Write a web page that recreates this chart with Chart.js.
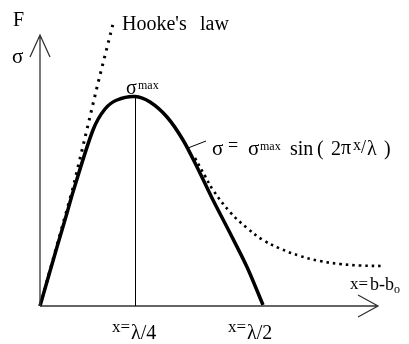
<!DOCTYPE html>
<html lang="en">
<head>
    <meta charset="UTF-8">
    <title>Hooke's law vs sine approximation</title>
    <script src="https://cdn.jsdelivr.net/npm/chart.js"></script>
    <style>
        html, body {
            margin: 0;
            padding: 0;
            background: #fff;
        }

        canvas {
            display: block;
        }
    </style>
</head>
<body>

    <canvas id="grafico" width="409" height="344"></canvas>

    <script>
        // separation x (arbitrary units) and stress for each curve
        const sineX   = [0, 1.7, 2.7, 3.3, 5.3, 6.5, 7.7, 9.5, 11.0, 12.7, 14.3, 15.7, 17.3, 19.0, 20.7, 22.3];
        const sineY   = [0, 5.9, 9.3, 11.4, 17.6, 19.7, 20.6, 20.95, 20.4, 18.9, 16.6, 13.9, 10.6, 7.3, 3.9, 0.1];

        const hookeX  = [0, 3.3, 5.8, 7.3];
        const hookeY  = [0, 11.8, 22.3, 28.2];

        const realX   = [15.5, 16.5, 17.3, 19.0, 20.7, 22.3, 24.0, 26.0, 28.0, 30.0, 32.0, 34.3];
        const realY   = [14.8, 13.0, 11.6, 9.4, 7.8, 6.6, 5.75, 5.0, 4.5, 4.2, 4.05, 4.0];

        // x = λ/4 (peak) and x = λ/2 (sine back to zero)
        const tickValues = [9.5, 22.3];
        const tickLabels = ["λ/4", "λ/2"];
        const sigmaMax = 20.95;

        const axisEndX = 33.8;
        const axisEndY = 27.1;

        const pontos = (xs, ys) => xs.map((x, i) => ({ x: x, y: ys[i] }));

        const serif = "'Liberation Serif', 'Times New Roman', serif";

        function texto(ctx, str, x, y, size) {
            ctx.font = size + "px " + serif;
            ctx.fillText(str, x, y);
        }

        const anotacoes = {
            id: "anotacoes",
            afterDraw(chart) {
                const ctx = chart.ctx;
                const sx = chart.scales.x, sy = chart.scales.y;
                const ox = sx.getPixelForValue(0), oy = sy.getPixelForValue(0);
                const ex = sx.getPixelForValue(axisEndX), ey = sy.getPixelForValue(axisEndY);

                ctx.save();
                ctx.strokeStyle = "#333";
                ctx.lineWidth = 1.3;
                ctx.beginPath();
                // x axis + arrow
                ctx.moveTo(ox, oy); ctx.lineTo(ex, oy);
                ctx.moveTo(ex - 20, oy - 11); ctx.lineTo(ex, oy); ctx.lineTo(ex - 20, oy + 11);
                // y axis + arrow
                ctx.moveTo(ox, oy); ctx.lineTo(ox, ey);
                ctx.moveTo(ox - 10, ey + 22); ctx.lineTo(ox, ey); ctx.lineTo(ox + 10, ey + 22);
                ctx.stroke();

                // vertical line under the maximum
                ctx.strokeStyle = "#000";
                ctx.lineWidth = 1;
                const lx = Math.round(sx.getPixelForValue(tickValues[0])) + 0.5;
                ctx.beginPath();
                ctx.moveTo(lx, oy);
                ctx.lineTo(lx, sy.getPixelForValue(sigmaMax));
                ctx.stroke();

                // leader line to the formula
                ctx.beginPath();
                ctx.moveTo(188, 148);
                ctx.lineTo(206, 141);
                ctx.stroke();

                ctx.fillStyle = "#000";
                ctx.textBaseline = "alphabetic";

                texto(ctx, "F", 13, 26, 20);
                texto(ctx, "σ", 12, 63, 21);
                texto(ctx, "Hooke's", 122, 30, 20);
                texto(ctx, "law", 200, 30, 20);

                // σmax above the peak
                const pk = sx.getPixelForValue(tickValues[0]);
                texto(ctx, "σ", pk - 9, 94, 20);
                texto(ctx, "max", pk + 3, 89, 12);

                // σ = σmax sin ( 2πx/λ )
                texto(ctx, "σ", 212, 155, 21);
                texto(ctx, "=", 228, 151, 18);
                texto(ctx, "σ", 248, 155, 21);
                texto(ctx, "max", 260, 150, 12);
                texto(ctx, "sin", 290, 155, 20);
                texto(ctx, "(", 317, 155, 20);
                texto(ctx, "2", 331, 155, 20);
                texto(ctx, "π", 341, 154, 20);
                texto(ctx, "x", 353, 150, 16);
                texto(ctx, "/", 361, 153, 18);
                texto(ctx, "λ", 367, 155, 20);
                texto(ctx, ")", 384, 155, 20);

                // x = b - bo
                texto(ctx, "x=", 350, 289, 17);
                texto(ctx, "b-b", 370, 290, 18);
                texto(ctx, "o", 394, 293, 12);

                // λ/4 and λ/2 labels under the axis
                const desloc = [-23, -35];
                tickValues.forEach((v, i) => {
                    const x0 = sx.getPixelForValue(v) + desloc[i];
                    texto(ctx, "x=", x0, 332, 17);
                    texto(ctx, tickLabels[i], x0 + 19, 339, 20);
                });

                ctx.restore();
            }
        };

        new Chart(document.getElementById("grafico"), {
            type: "scatter",
            data: {
                datasets: [
                    {
                        label: "Hooke's law",
                        data: pontos(hookeX, hookeY),
                        showLine: true,
                        borderColor: "#000",
                        borderWidth: 3,
                        borderDash: [2.5, 5.5],
                        pointRadius: 0,
                        tension: 0,
                        clip: false
                    },
                    {
                        label: "real",
                        data: pontos(realX, realY),
                        showLine: true,
                        borderColor: "#000",
                        borderWidth: 2.6,
                        borderDash: [2.5, 4],
                        pointRadius: 0,
                        tension: 0.4,
                        clip: false
                    },
                    {
                        label: "sine",
                        data: pontos(sineX, sineY),
                        showLine: true,
                        borderColor: "#000",
                        borderWidth: 3.5,
                        pointRadius: 0,
                        tension: 0.3,
                        clip: false
                    }
                ]
            },
            options: {
                responsive: false,
                animation: false,
                layout: { padding: { left: 40, right: 19, top: 16, bottom: 38 } },
                plugins: {
                    legend: { display: false },
                    tooltip: { enabled: false }
                },
                scales: {
                    x: { type: "linear", min: 0, max: 35, display: false },
                    y: { type: "linear", min: 0, max: 29, display: false }
                }
            },
            plugins: [anotacoes]
        });
    </script>

</body>
</html>
